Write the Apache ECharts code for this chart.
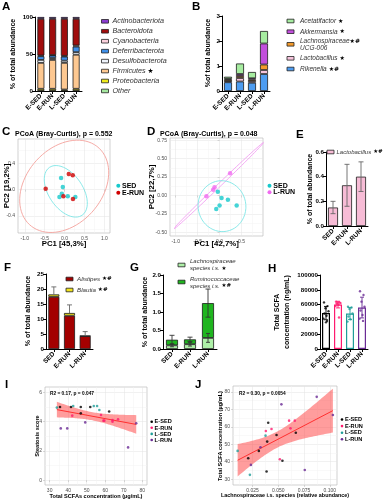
<!DOCTYPE html>
<html><head><meta charset="utf-8">
<script src="https://cdn.jsdelivr.net/npm/echarts@6/dist/echarts.min.js"></script>
<style>html,body{margin:0;padding:0;background:#fff}#c{width:387px;height:500px}</style>
</head><body><div id="c"></div>
<script>
// ================= DATA =================
// Panel A (phylum level, % of total abundance, stacked bottom -> top)
const catsA = ['E-SED','E-RUN','L-SED','L-RUN'];
const phyOther = [0.5,0.5,0.5,0.5];
const phyProteo = [2.5,2.5,1.5,2.5];
const phyFirm = [35,39,36,46];
const phyDesulfo = [4,2.5,3,3.5];
const phyDeferri = [5,3.5,5.5,7.5];
const phyCyano = [1,0.5,1,1.5];
const phyBactero = [49.5,49,50,36];
const phyActino = [2.5,2.5,2.5,2.5];
const ticksA = [0,50,100];
// Panel B (genus level)
const genRikenella = [0.35,0.38,0.33,0.68];
const genLactobacillus = [0.05,0.14,0.07,0.16];
const genLachnoUCG = [0.06,0.08,0.06,0.22];
const genAkkermansia = [0.03,0.08,0.05,0.84];
const genAcetatifactor = [0.08,0.42,0.25,0.50];
// Panel C PCoA
const pcoaC_SED = [[-0.088,0.178],[-0.045,0.041],[-0.07,-0.061],[-0.13,-0.111],[0.08,-0.10],[0.27,-0.111]];
const pcoaC_ERUN = [[0.105,0.238],[0.205,0.217],[-0.475,0.015],[-0.03,-0.10],[0.21,-0.142]];
const ellC_SED = [0.03,-0.026,0.408,-0.365,0.355,0.144];   // centre, conjugate semi-axes
const ellC_ERUN = [-0.01,0.05,1.11,0.13,0.13,0.69];
// Panel D PCoA
const pcoaD_SED = [[-0.04,0.05],[0.046,-0.035],[0.19,-0.058],[0.39,-0.135],[0,-0.135],[-0.076,-0.185]];
const pcoaD_LRUN = [[0.24,0.30],[-0.115,0.11],[-0.146,0.077],[-0.3,-0.01]];
const ellD_SED = [0.055,-0.145,0.545,-0.02,0.02,0.345];
const ellD_LRUN = [-0.025,0.13,1.03,0.59,0.025,-0.015];
// Panel E
const catsE = ['SED','E-RUN','L-RUN'];
const lactoMean = [0.15,0.33,0.40];
const lactoHi = [0.20,0.50,0.52];
const lactoLo = [0.10,0.16,0.28];
// Panel F
const alistipes = [17.4,11.1,4.3];
const blautia = [0.8,0.9,0.1];
const alistipesErrTop = [20.7,14.7,5.8];
// Panel G
const lachnoSp = [0.10,0.13,0.30];
const lachnoSpErr = [0.04,0.05,0.12];
const ruminoSp = [0.15,0.13,0.94];
const ruminoSpErr = [0.12,0.06,0.38];
// Panel H (total SCFA ng/mL)
const hMean = [48500,60000,48000,56000];
const hSD = [9000,4500,8000,14000];
const hESED = [63000,58000,55000,51000,48000,45000,41000,38000,36000];
const hERUN = [64000,63000,62500,62000,61000,60000,58000,42500];
const hLSED = [57000,56000,54000,48000,44000,40000,37000];
const hLRUN = [78000,73000,64000,57000,52000,46000,41000,38000];
// Panel I (x: total SCFAs ug/mL, y: steatosis score)
const iESED = [[35.6,5.0],[41.5,5.0],[46.8,5.0],[51.9,5.0],[46.8,4.57],[62.1,4.69]];
const iERUN = [[42.2,4.41],[57.7,4.46],[59,4.07],[59.5,4.07],[63.9,4.0],[63.9,4.11],[66.9,4.16]];
const iLSED = [[33.9,4.96],[42.7,5.07],[53.8,5.07],[55.6,5.07],[56.8,4.8]];
const iLRUN = [[36,3.54],[39.5,3.54],[49.2,3.95],[76.7,3.89],[72.3,2.24]];
// Panel J (x: Lachnospiraceae i.s. rel. abundance, y: total SCFA ug/mL)
const jESED = [[0.0402,62.3],[0.0392,51.5],[0.0311,46.2],[0.0483,55.3],[0.054,40.6],[0.067,56.6],[0.0386,34.4],[0.0208,42.0]];
const jERUN = [[0.0434,58.7],[0.0379,57.6],[0.0605,63.5],[0.066,63.5],[0.0618,59.1],[0.0515,41.4]];
const jLSED = [[0.0105,46.2],[0.0376,54.9],[0.0224,32.5]];
const jLRUN = [[0.0873,77.1],[0.053,72.8],[0.103,66.7],[0.0757,35.3],[0.0327,48.3],[0.0234,38.2]];

// ================= STYLE =================
const FONT = '"Liberation Sans", Arial, Helvetica, sans-serif';
const colA = {Actino:'#8a3ccf',Bactero:'#a00d0d',Cyano:'#f9d0dc',Deferri:'#3f8fe8',Desulfo:'#eef3fb',Firm:'#fdc891',Proteo:'#eeea1c',Other:'#a6e8a0'};
const colB = {Acet:'#a6eca0',Akk:'#c24fdc',Lachno:'#f39a2c',Lacto:'#f6c4dc',Rik:'#4d9cf0'};
const grpCol = ['#000000','#ff1a6e','#1f9e98','#6a2b95'];
const jitter = [-2,1.5,-0.5,2.5,-1.5,0.5,-2.5,1,0];

const grids = [], xAxes = [], yAxes = [], series = [], graphics = [];
function addGrid(g){ grids.push(Object.assign({containLabel:false}, g)); return grids.length-1; }

function prismAxes(g, cats, ymin, ymax, yint, fmt){
  xAxes.push({gridIndex:g, type:'category', data:cats, boundaryGap:true,
    axisLine:{show:true, lineStyle:{color:'#000', width:1}},
    axisTick:{show:true, alignWithLabel:true, length:3, lineStyle:{color:'#000', width:1}},
    axisLabel:{rotate:45, interval:0, fontSize:6.5, fontWeight:'bold', color:'#000', fontFamily:FONT, margin:4},
    splitLine:{show:false}});
  yAxes.push({gridIndex:g, type:'value', min:ymin, max:ymax, interval:yint,
    axisLine:{show:true, lineStyle:{color:'#000', width:1}},
    axisTick:{show:true, length:3, lineStyle:{color:'#000', width:1}},
    axisLabel:{fontSize:6.2, fontWeight:'bold', color:'#000', fontFamily:FONT, margin:2, formatter:fmt},
    splitLine:{show:false}});
  return [xAxes.length-1, yAxes.length-1];
}
function ggAxes(g, xr, xMaj, xMin, xFmt, yr, yMaj, yMin, yFmt){
  const lab = {fontSize:5, color:'#4d4d4d', fontFamily:FONT};
  xAxes.push({gridIndex:g, type:'value', min:xr[0], max:xr[1], position:'bottom',
    axisLine:{show:false}, axisTick:{show:true, length:2, lineStyle:{color:'#b3b3b3', width:0.5}, customValues:xMaj},
    axisLabel:Object.assign({margin:3, customValues:xMaj, formatter:xFmt}, lab),
    splitLine:{show:true, lineStyle:{color:'#e2e2e2', width:0.5}}});
  const xi = xAxes.length-1;
  xAxes.push({gridIndex:g, type:'value', min:xr[0], max:xr[1], position:'top',
    axisLine:{show:false}, axisTick:{show:false, customValues:xMin}, axisLabel:{show:false, customValues:xMin},
    splitLine:{show:true, lineStyle:{color:'#f2f2f2', width:0.5}}});
  yAxes.push({gridIndex:g, type:'value', min:yr[0], max:yr[1], position:'left',
    axisLine:{show:false}, axisTick:{show:true, length:2, lineStyle:{color:'#b3b3b3', width:0.5}, customValues:yMaj},
    axisLabel:Object.assign({margin:3, customValues:yMaj, formatter:yFmt}, lab),
    splitLine:{show:true, lineStyle:{color:'#e2e2e2', width:0.5}}});
  const yi = yAxes.length-1;
  yAxes.push({gridIndex:g, type:'value', min:yr[0], max:yr[1], position:'right',
    axisLine:{show:false}, axisTick:{show:false, customValues:yMin}, axisLabel:{show:false, customValues:yMin},
    splitLine:{show:true, lineStyle:{color:'#f2f2f2', width:0.5}}});
  return [xi, yi];
}
function txt(x, y, text, o){
  o = o || {};
  return {type:'text', x:x, y:y, rotation:o.rot||0, z:50, silent:true,
    style:{text:text, fill:o.color||'#000', fontSize:o.size||7, fontWeight:o.weight||'normal',
      fontStyle:o.style||'normal', fontFamily:FONT, align:o.align||'left', verticalAlign:o.va||'middle',
      rich:o.rich, lineHeight:o.lh}};
}
function box(x, y, w, h, fill){
  return {type:'rect', z:50, silent:true, shape:{x:x, y:y-h/2, width:w, height:h}, style:{fill:fill, stroke:'#222', lineWidth:0.8}};
}
function dot(x, y, r, c){ return {type:'circle', z:50, silent:true, shape:{cx:x, cy:y, r:r}, style:{fill:c}}; }
function legItem(x, y, w, h, fill, name, star, size, tx){
  graphics.push(box(x, y, w, h, fill));
  graphics.push(txt(tx, y, '{i|'+name+'}'+(star?' {s|'+star+'}':''), {rich:{
    i:{fontStyle:'italic', fontSize:size, fontFamily:FONT, fill:'#333'},
    s:{fontSize:size-0.5, fontFamily:'"DejaVu Sans", sans-serif', fill:'#000', fontWeight:'bold'}}}));
}
function letter(x, y, l){ graphics.push(txt(x, y, l, {size:11.5, weight:'bold', va:'top'})); }
function ytitle(x, y, t, size){ graphics.push(txt(x, y, t, {rot:Math.PI/2, align:'center', size:size||7, weight:'bold'})); }

function errSeries(xi, yi, data, color, capW, upperOnly){
  return {type:'custom', xAxisIndex:xi, yAxisIndex:yi, z:6, silent:true, data:data,
    renderItem:function(params, api){
      const x = api.value(0), hi = api.value(1), lo = api.value(2);
      const p1 = api.coord([x, hi]), p0 = api.coord([x, lo]);
      const st = {stroke:color, lineWidth:0.9};
      const ch = [
        {type:'line', shape:{x1:p1[0], y1:p1[1], x2:p0[0], y2:p0[1]}, style:st},
        {type:'line', shape:{x1:p1[0]-capW/2, y1:p1[1], x2:p1[0]+capW/2, y2:p1[1]}, style:st}];
      if(!upperOnly) ch.push({type:'line', shape:{x1:p0[0]-capW/2, y1:p0[1], x2:p0[0]+capW/2, y2:p0[1]}, style:st});
      return {type:'group', children:ch};
    }};
}
function ellipsePts(p){
  const out = [];
  for(let i=0;i<=160;i++){ const t = 2*Math.PI*i/160;
    out.push([p[0]+p[2]*Math.cos(t)+p[4]*Math.sin(t), p[1]+p[3]*Math.cos(t)+p[5]*Math.sin(t)]); }
  return out;
}
function ellSeries(xi, yi, p, color){
  return {type:'line', xAxisIndex:xi, yAxisIndex:yi, data:ellipsePts(p), symbol:'none', showSymbol:false,
    clip:true, silent:true, z:3, lineStyle:{color:color, width:0.9}};
}
function linfit(groupsArr){
  const pts = [].concat.apply([], groupsArr); const n = pts.length;
  let mx=0, my=0; pts.forEach(p=>{mx+=p[0]; my+=p[1];}); mx/=n; my/=n;
  let sxx=0, sxy=0; pts.forEach(p=>{sxx+=(p[0]-mx)*(p[0]-mx); sxy+=(p[0]-mx)*(p[1]-my);});
  const b = sxy/sxx, a = my-b*mx;
  let sse=0; pts.forEach(p=>{const r=p[1]-a-b*p[0]; sse+=r*r;});
  const df = n-2, s = Math.sqrt(sse/df), z = 1.959964;
  const t = z + (z*z*z+z)/(4*df) + (5*Math.pow(z,5)+16*z*z*z+3*z)/(96*df*df);
  const xs = pts.map(p=>p[0]); const x0 = Math.min.apply(null,xs), x1 = Math.max.apply(null,xs);
  const up=[], lo=[];
  for(let i=0;i<=60;i++){ const x = x0+(x1-x0)*i/60, yh = a+b*x, se = s*Math.sqrt(1/n+(x-mx)*(x-mx)/sxx);
    up.push([x, yh+t*se]); lo.push([x, yh-t*se]); }
  return {line:[[x0,a+b*x0],[x1,a+b*x1]], up:up, lo:lo, mx:mx, my:my};
}
function regSeries(xi, yi, fit){
  return [
    {type:'custom', xAxisIndex:xi, yAxisIndex:yi, z:2, silent:true, data:[[fit.mx, fit.my]],
      renderItem:function(params, api){
        const pts = fit.up.map(p=>api.coord(p)).concat(fit.lo.slice().reverse().map(p=>api.coord(p)));
        return {type:'polygon', shape:{points:pts}, style:{fill:'rgba(255,60,60,0.5)'}};
      }},
    {type:'line', xAxisIndex:xi, yAxisIndex:yi, data:fit.line, symbol:'none', silent:true, z:3,
      lineStyle:{color:'#ff3030', width:1}}
  ];
}
function sc(xi, yi, data, color, size){
  return {type:'scatter', xAxisIndex:xi, yAxisIndex:yi, data:data, symbolSize:size, z:5, silent:true,
    itemStyle:{color:color}};
}
function bar(xi, yi, data, color, stack, w){
  return {type:'bar', xAxisIndex:xi, yAxisIndex:yi, data:data, stack:stack, barWidth:w, silent:true,
    itemStyle:{color:color, borderColor:'#1a1a1a', borderWidth:0.8}};
}

// ================= PANEL A =================
let g = addGrid({left:35, top:17, width:47, height:74});
let ax = prismAxes(g, catsA, 0, 100, 50, v=>String(v));
[[phyOther,colA.Other],[phyProteo,colA.Proteo],[phyFirm,colA.Firm],[phyDesulfo,colA.Desulfo],
 [phyDeferri,colA.Deferri],[phyCyano,colA.Cyano],[phyBactero,colA.Bactero],[phyActino,colA.Actino]]
 .forEach(s=>series.push(bar(ax[0], ax[1], s[0], s[1], 'A', 7)));
letter(2, 1, 'A');
ytitle(13, 54, '% of total abundance');
[['Actinobacteriota',colA.Actino,''],['Bacteroidota',colA.Bactero,''],['Cyanobacteria',colA.Cyano,''],
 ['Deferribacterota',colA.Deferri,''],['Desulfobacterota',colA.Desulfo,''],['Firmicutes',colA.Firm,'★'],
 ['Proteobacteria',colA.Proteo,''],['Other',colA.Other,'']].forEach((it,i)=>
  legItem(101.5, 21.3+i*9.95, 7, 3.6, it[1], it[0], it[2], 7.2, 112.5));

// ================= PANEL B =================
g = addGrid({left:222, top:16, width:48, height:75});
ax = prismAxes(g, catsA, 0, 3, 1, v=>String(v));
[[genRikenella,colB.Rik],[genLactobacillus,colB.Lacto],[genLachnoUCG,colB.Lachno],
 [genAkkermansia,colB.Akk],[genAcetatifactor,colB.Acet]]
 .forEach(s=>series.push(bar(ax[0], ax[1], s[0], s[1], 'B', 8)));
letter(192, 1, 'B');
ytitle(208, 53, '%of total abundance');
legItem(287, 21, 7, 3.6, colB.Acet, 'Acetatifactor', '★', 6.5, 300);
legItem(287, 31.7, 7, 3.6, colB.Akk, 'Akkermansia', '★', 6.5, 300);
graphics.push(box(287, 44.3, 7, 3.6, colB.Lachno));
graphics.push(txt(300, 41, '{i|Lachnospiraceae}{s|★#}', {rich:{i:{fontStyle:'italic', fontSize:6.5, fontFamily:FONT, fill:'#333'},
  s:{fontSize:6, fontFamily:'"DejaVu Sans", sans-serif', fontWeight:'bold', fill:'#000'}}}));
graphics.push(txt(300, 48.3, 'UCG-006', {style:'italic', size:6.5, color:'#333'}));
legItem(287, 58.3, 7, 3.6, colB.Lacto, 'Lactobacillus', '★', 6.5, 300);
legItem(287, 69, 7, 3.6, colB.Rik, 'Rikenella', '★#', 6.5, 300);

// ================= PANEL C =================
const f1 = v=>v.toFixed(1), f2 = v=>v.toFixed(2);
g = addGrid({left:18, top:139, width:92, height:94, show:true, borderColor:'#b3b3b3', borderWidth:0.6, backgroundColor:'#fff'});
ax = ggAxes(g, [-1.17,1.14], [-1,-0.5,0,0.5,1], [-0.75,-0.25,0.25,0.75], f1,
                [-0.66,0.77], [-0.4,0,0.4], [-0.6,-0.2,0.2,0.6], f1);
series.push(ellSeries(ax[0], ax[1], ellC_ERUN, '#f4a29c'));
series.push(ellSeries(ax[0], ax[1], ellC_SED, '#7fe6e6'));
series.push(sc(ax[0], ax[1], pcoaC_SED, '#16c9cc', 4.5));
series.push(sc(ax[0], ax[1], pcoaC_ERUN, '#d00000', 4.5));
letter(2, 126, 'C');
graphics.push(txt(15, 134, 'PCoA (Bray-Curtis), p = 0.552', {weight:'bold', size:7}));
graphics.push(txt(64, 243.5, 'PC1 [45,3%]', {weight:'bold', size:7.8, align:'center'}));
ytitle(6.5, 186, 'PC2 [19,2%]', 7.8);
graphics.push(dot(118.3, 185.7, 2, '#16c9cc'), txt(122, 185.9, 'SED', {weight:'bold', size:7}));
graphics.push(dot(118.3, 192.7, 2, '#d00000'), txt(122, 192.9, 'E-RUN', {weight:'bold', size:7}));

// ================= PANEL D =================
g = addGrid({left:170, top:138, width:93, height:98, show:true, borderColor:'#b3b3b3', borderWidth:0.6, backgroundColor:'#fff'});
ax = ggAxes(g, [-1.13,0.99], [-1,-0.5,0,0.5], [-0.75,-0.25,0.25,0.75], f1,
                [-0.55,0.78], [-0.5,-0.25,0,0.25,0.5,0.75], [-0.375,-0.125,0.125,0.375,0.625], f2);
series.push(ellSeries(ax[0], ax[1], ellD_LRUN, '#f3a0f3'));
series.push(ellSeries(ax[0], ax[1], ellD_SED, '#7fe6e6'));
series.push(sc(ax[0], ax[1], pcoaD_SED, '#16c9cc', 4.5));
series.push(sc(ax[0], ax[1], pcoaD_LRUN, '#f06af0', 4.5));
letter(147, 126, 'D');
graphics.push(txt(160, 134, 'PCoA (Bray-Curtis), p = 0.048', {weight:'bold', size:7}));
graphics.push(txt(216.5, 243.5, 'PC1 [42,7%]', {weight:'bold', size:7.8, align:'center'}));
ytitle(151.5, 187, 'PC2 [22,7%]', 7.8);
graphics.push(dot(269.5, 185.7, 2, '#16c9cc'), txt(273.3, 185.9, 'SED', {weight:'bold', size:7}));
graphics.push(dot(269.5, 192.3, 2, '#f06af0'), txt(273.3, 192.5, 'L-RUN', {weight:'bold', size:7}));

// ================= PANEL E =================
g = addGrid({left:326, top:152, width:42, height:74});
ax = prismAxes(g, catsE, 0, 0.6, 0.2, f1);
series.push(bar(ax[0], ax[1], lactoMean, '#f7bcd6', null, 10));
series.push(errSeries(ax[0], ax[1], catsE.map((c,i)=>[i, lactoHi[i], lactoLo[i]]), '#666', 5, false));
letter(296, 129, 'E');
ytitle(310, 189, '% of total abundance');
legItem(327, 152, 7, 3.6, '#f7bcd6', 'Lactobacillus', '★#', 6, 336.5);

// ================= PANEL F =================
g = addGrid({left:46, top:274, width:47, height:75});
ax = prismAxes(g, catsE, 0, 25, 5, v=>String(v));
series.push(bar(ax[0], ax[1], alistipes, '#a30000', 'F', 11));
series.push(bar(ax[0], ax[1], blautia, '#f2e41c', 'F', 11));
series.push(errSeries(ax[0], ax[1], catsE.map((c,i)=>[i, alistipesErrTop[i], alistipes[i]+blautia[i]]), '#666', 5, true));
letter(4, 262, 'F');
ytitle(28.3, 311, '% of total abundance');
legItem(66, 279, 7, 3.6, '#a30000', 'Alistipes', '★#', 6.2, 77);
legItem(66, 290, 7, 3.6, '#f2e41c', 'Blautia', '★#', 6.2, 77);

// ================= PANEL G =================
g = addGrid({left:163, top:275, width:54, height:74});
ax = prismAxes(g, catsE, 0, 2, 0.5, f1);
series.push(bar(ax[0], ax[1], lachnoSp, '#aef0a8', 'G', 12));
series.push(bar(ax[0], ax[1], ruminoSp, '#1fb51f', 'G', 12));
series.push(errSeries(ax[0], ax[1], catsE.map((c,i)=>[i, lachnoSp[i]+lachnoSpErr[i], lachnoSp[i]-lachnoSpErr[i]]), '#333', 4, false));
series.push(errSeries(ax[0], ax[1], catsE.map((c,i)=>{const t=lachnoSp[i]+ruminoSp[i]; return [i, t+ruminoSpErr[i], t-ruminoSpErr[i]];}), '#333', 5, false));
letter(130, 262, 'G');
ytitle(145, 312, '% of total abundance');
graphics.push(box(178, 265, 7, 3.6, '#aef0a8'));
graphics.push(txt(190, 261.7, 'Lachnospiraceae', {style:'italic', size:6, color:'#333'}));
graphics.push(txt(190, 268.3, '{i|species i.s.} {s|★}', {rich:{i:{fontStyle:'italic', fontSize:6, fontFamily:FONT, fill:'#333'},
  s:{fontSize:5.5, fontFamily:'"DejaVu Sans", sans-serif', fontWeight:'bold', fill:'#000'}}}));
graphics.push(box(178, 282, 7, 3.6, '#1fb51f'));
graphics.push(txt(190, 279.3, 'Ruminococcaceae', {style:'italic', size:6, color:'#333'}));
graphics.push(txt(190, 286, '{i|species i.s.} {s|★#}', {rich:{i:{fontStyle:'italic', fontSize:6, fontFamily:FONT, fill:'#333'},
  s:{fontSize:5.5, fontFamily:'"DejaVu Sans", sans-serif', fontWeight:'bold', fill:'#000'}}}));

// ================= PANEL H =================
g = addGrid({left:320, top:275, width:48, height:74});
ax = prismAxes(g, catsA, 0, 100000, 20000, v=>String(v));
series.push({type:'bar', xAxisIndex:ax[0], yAxisIndex:ax[1], barWidth:8, silent:true,
  data:hMean.map((v,i)=>({value:v, itemStyle:{color:'#fff', borderColor:grpCol[i], borderWidth:1.2}}))});
[hESED,hERUN,hLSED,hLRUN].forEach((arr,gi)=>{
  series.push({type:'scatter', xAxisIndex:ax[0], yAxisIndex:ax[1], symbolSize:2.4, z:5, silent:true,
    itemStyle:{color:grpCol[gi]}, data:arr.map((v,k)=>({value:[gi, v], symbolOffset:[jitter[k%jitter.length],0]}))});
  series.push(errSeries(ax[0], ax[1], [[gi, hMean[gi]+hSD[gi], hMean[gi]-hSD[gi]]], grpCol[gi], 4, false));
});
letter(268, 263, 'H');
graphics.push(txt(282, 312, 'Total SCFA\nconcentration (ng/mL)', {rot:Math.PI/2, align:'center', size:7, weight:'bold', lh:10}));

// ================= PANEL I =================
g = addGrid({left:45, top:387, width:102, height:98, show:true, borderColor:'#b3b3b3', borderWidth:0.6, backgroundColor:'#fff'});
ax = ggAxes(g, [27.5,82.5], [30,40,50,60,70,80], [35,45,55,65,75], v=>String(v),
                [-0.33,6.37], [0,2,4,6], [1,3,5], v=>String(v));
regSeries(ax[0], ax[1], linfit([iESED,iERUN,iLSED,iLRUN])).forEach(s=>series.push(s));
[iESED,iERUN,iLSED,iLRUN].forEach((d,gi)=>series.push(sc(ax[0], ax[1], d, grpCol[gi], 2.6)));
letter(5, 379, 'I');
graphics.push(txt(50, 394, 'R2 = 0.17, p = 0.047', {weight:'bold', size:4.8}));
graphics.push(txt(96, 496, 'Total SCFAs concentration (µg/mL)', {weight:'bold', size:5.6, align:'center'}));
ytitle(37.5, 436, 'Steatosis score', 5.6);
['E-SED','E-RUN','L-SED','L-RUN'].forEach((n,i)=>{
  graphics.push(dot(151.7, 421.7+i*6.1, 1.3, grpCol[i]), txt(154.6, 421.9+i*6.1, n, {weight:'bold', size:5.6}));
});

// ================= PANEL J =================
g = addGrid({left:233, top:386, width:104, height:99, show:true, borderColor:'#b3b3b3', borderWidth:0.6, backgroundColor:'#fff'});
ax = ggAxes(g, [0.006,0.107], [0.025,0.05,0.075,0.1], [0.0125,0.0375,0.0625,0.0875], v=>v.toFixed(3),
                [26.7,83.3], [30,40,50,60,70,80], [35,45,55,65,75], v=>String(v));
regSeries(ax[0], ax[1], linfit([jESED,jERUN,jLSED,jLRUN])).forEach(s=>series.push(s));
[jESED,jERUN,jLSED,jLRUN].forEach((d,gi)=>series.push(sc(ax[0], ax[1], d, grpCol[gi], 2.6)));
letter(195, 379, 'J');
graphics.push(txt(239, 394, 'R2 = 0.30, p = 0.0054', {weight:'bold', size:4.8}));
graphics.push(txt(285, 496, 'Lachnospiraceae i.s. species (relative abundance)', {weight:'bold', size:5.4, align:'center'}));
ytitle(220, 436, 'Total SCFA concentration (µg/mL)', 5.6);
['E-SED','E-RUN','L-SED','L-RUN'].forEach((n,i)=>{
  graphics.push(dot(342, 419.5+i*6.6, 1.3, grpCol[i]), txt(345, 419.7+i*6.6, n, {weight:'bold', size:5.6}));
});

const chart = echarts.init(document.getElementById('c'), null, {renderer:'canvas', width:387, height:500});
chart.setOption({
  animation:false,
  backgroundColor:'#fff',
  textStyle:{fontFamily:FONT},
  grid:grids, xAxis:xAxes, yAxis:yAxes, series:series, graphic:graphics
});
</script></body></html>
